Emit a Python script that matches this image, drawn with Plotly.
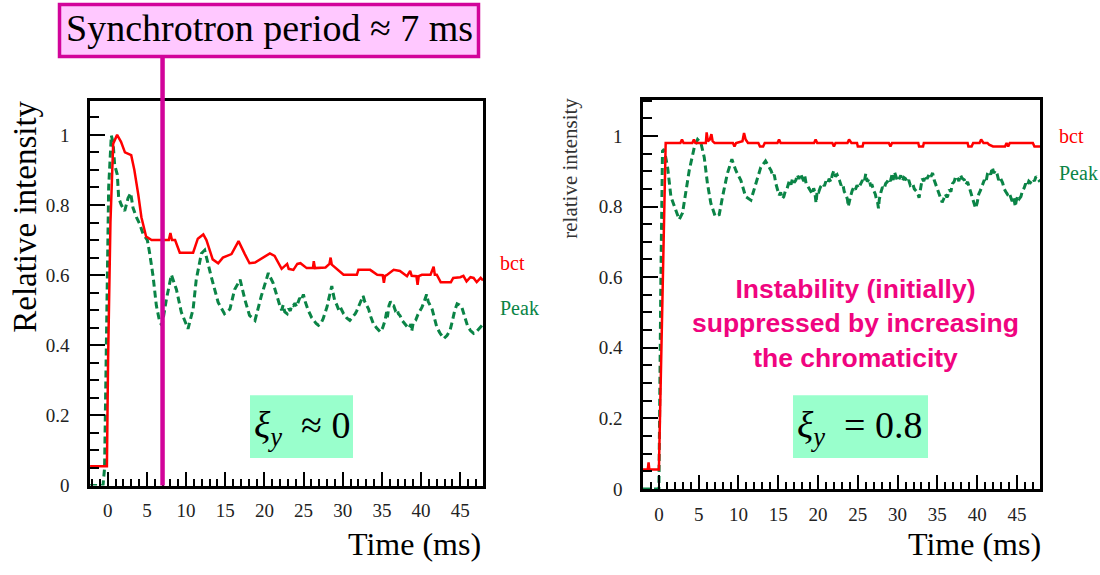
import plotly.graph_objects as go

# ---- measured beam signals, xi_y ~ 0 (left) ----
bct_left_t = [-2.25, -0.1, 0.05, 0.35, 0.7, 1.2, 1.7, 2.2, 3.0, 3.4, 3.9, 4.3, 4.9, 5.6, 7.8, 8.0, 8.2,
              8.6, 9.2, 10.9, 11.5, 12.2, 12.6, 13.4, 14.1, 14.7, 15.8, 16.7, 17.5, 18.1, 18.8, 19.6, 20.7,
              21.3, 22.2, 22.9, 23.1, 23.7, 24.2, 24.6, 25.2, 25.4, 26.2, 26.3, 26.45, 27.1, 27.8, 28.3,
              28.45, 28.6, 29.2, 30.1, 31.8, 32.0, 33.5, 34.4, 35.1, 35.25, 35.4, 35.6, 36.5, 37.3, 38.2,
              38.6, 38.8, 39.4, 39.55, 39.7, 40.1, 41.2, 41.6, 41.75, 42.0, 42.5, 43.8, 44.1, 45.0, 45.4,
              45.8, 46.3, 46.7, 47.1, 47.6, 47.9]
bct_left_v = [0.055, 0.055, 0.36, 0.75, 0.975, 1.0, 0.98, 0.95, 0.942, 0.9, 0.83, 0.765, 0.71, 0.70, 0.70,
              0.72, 0.70, 0.70, 0.664, 0.664, 0.704, 0.716, 0.70, 0.645, 0.634, 0.65, 0.66, 0.697, 0.66,
              0.634, 0.636, 0.648, 0.662, 0.655, 0.618, 0.632, 0.618, 0.615, 0.632, 0.634, 0.622, 0.62,
              0.62, 0.64, 0.62, 0.62, 0.622, 0.632, 0.65, 0.63, 0.618, 0.601, 0.601, 0.615, 0.615, 0.601,
              0.60, 0.578, 0.598, 0.60, 0.615, 0.612, 0.597, 0.612, 0.598, 0.597, 0.572, 0.597, 0.601,
              0.601, 0.624, 0.601, 0.601, 0.58, 0.58, 0.592, 0.594, 0.598, 0.582, 0.594, 0.592, 0.58,
              0.592, 0.585]

peak_left_t = [-2.25, -0.6, -0.4, -0.17, -0.05, 0.12, 0.46, 0.68, 0.89, 1.23, 1.4, 1.74, 2.17, 2.6, 2.93,
               3.23, 3.66, 4.08, 4.51, 5.06, 5.36, 5.79, 6.21, 6.64, 6.94, 7.49, 8.13, 8.77, 9.4, 10.25,
               10.9, 11.3, 11.96, 12.38, 13.2, 14.1, 14.9, 15.6, 16.2, 16.9, 17.5, 18.1, 18.8, 19.6, 20.5,
               21.1, 21.97, 22.2, 22.4, 22.6, 22.9, 23.1, 23.3, 23.5, 23.7, 23.9, 24.1, 24.3, 24.5, 24.7,
               24.98, 25.2, 25.4, 25.6, 25.8, 26.0, 26.3, 26.6, 26.9, 27.2, 27.5, 27.8, 28.0, 28.2, 28.4,
               28.6, 28.8, 29.0, 29.2, 29.5, 29.7, 30.1, 30.5, 30.9, 31.3, 31.6, 31.8, 32.2, 32.4, 32.6,
               32.8, 33.0, 33.3, 33.6, 33.9, 34.3, 34.8, 35.1, 35.4, 35.6, 35.7, 35.9, 36.1, 36.3, 36.5,
               36.7, 36.9, 37.1, 37.3, 37.6, 37.9, 38.1, 38.4, 38.7, 38.8, 39.0, 39.3, 39.6, 39.8, 40.1,
               40.4, 40.7, 40.9, 41.1, 41.4, 41.7, 42.0, 42.4, 42.9, 43.3, 43.7, 44.0, 44.3, 44.6, 44.9,
               45.2, 45.5, 45.9, 46.3, 46.7, 47.1, 47.6, 47.9]
peak_left_v = [0.0, 0.0, 0.05, 0.38, 0.66, 0.85, 0.998, 0.98, 0.914, 0.886, 0.82, 0.80, 0.783, 0.82, 0.834,
               0.792, 0.765, 0.746, 0.718, 0.70, 0.662, 0.597, 0.513, 0.466, 0.457, 0.531, 0.601, 0.559,
               0.494, 0.447, 0.503, 0.587, 0.662, 0.671, 0.597, 0.522, 0.49, 0.503, 0.559, 0.587, 0.531,
               0.485, 0.471, 0.54, 0.606, 0.578, 0.513, 0.50, 0.515, 0.495, 0.49, 0.505, 0.498, 0.515,
               0.513, 0.52, 0.51, 0.522, 0.535, 0.528, 0.545, 0.525, 0.51, 0.499, 0.49, 0.48, 0.471, 0.462,
               0.457, 0.462, 0.476, 0.495, 0.51, 0.531, 0.55, 0.569, 0.545, 0.525, 0.517, 0.50, 0.508, 0.49,
               0.478, 0.471, 0.482, 0.49, 0.499, 0.52, 0.53, 0.541, 0.525, 0.515, 0.503, 0.48, 0.462, 0.45,
               0.438, 0.45, 0.471, 0.495, 0.48, 0.513, 0.525, 0.515, 0.513, 0.50, 0.505, 0.49, 0.485, 0.47,
               0.462, 0.455, 0.448, 0.46, 0.44, 0.465, 0.471, 0.488, 0.495, 0.508, 0.525, 0.545, 0.525,
               0.515, 0.503, 0.478, 0.452, 0.435, 0.419, 0.428, 0.443, 0.47, 0.50, 0.518, 0.515, 0.508,
               0.485, 0.457, 0.442, 0.434, 0.44, 0.452, 0.46]

# ---- measured beam signals, xi_y = 0.8 (right) ----
bct_right_t = [-2.0, -1.4, -1.3, -1.2, 0.0, 0.55, 0.85, 2.7, 2.9, 3.1, 4.2, 4.4, 4.6, 5.9, 6.0, 6.15, 6.4,
               6.6, 6.75, 7.0, 9.3, 9.5, 9.7, 10.5, 10.7, 10.9, 11.2, 12.5, 12.7, 13.1, 13.3, 14.9, 15.1,
               15.3, 19.5, 19.7, 19.9, 21.8, 22.0, 22.2, 23.7, 23.9, 24.2, 24.9, 25.0, 25.6, 25.7, 28.9,
               29.1, 29.3, 32.6, 32.7, 33.2, 33.3, 38.8, 38.9, 39.3, 39.5, 40.3, 40.5, 40.8, 41.3, 41.5,
               42.0, 43.5, 43.7, 43.9, 44.1, 47.0, 47.2, 47.9]
bct_right_v = [0.055, 0.055, 0.075, 0.055, 0.055, 0.72, 0.98, 0.98, 0.99, 0.98, 0.98, 0.99, 0.98, 0.98,
               1.01, 0.985, 0.99, 1.005, 0.985, 0.98, 0.98, 0.97, 0.98, 0.985, 1.008, 0.99, 0.98, 0.98,
               0.97, 0.97, 0.98, 0.98, 0.99, 0.98, 0.98, 0.99, 0.98, 0.98, 0.97, 0.98, 0.98, 0.99, 0.98,
               0.98, 0.97, 0.97, 0.98, 0.98, 0.97, 0.98, 0.98, 0.97, 0.97, 0.98, 0.98, 0.97, 0.97, 0.98,
               0.98, 0.99, 0.98, 0.98, 0.975, 0.97, 0.97, 0.98, 0.97, 0.98, 0.98, 0.97, 0.97]

peak_right_t = [-2.0, 0.0, 0.25, 0.45, 0.67, 1.09, 1.51, 2.05, 2.55, 2.97, 3.39, 3.81, 4.44, 4.86, 5.28,
                5.7, 6.1, 6.53, 7.08, 7.58, 8.0, 8.6, 9.17, 9.67, 10.3, 10.9, 11.56, 12.2, 12.8, 13.4,
                14.1, 14.35, 14.5, 14.7, 14.9, 15.1, 15.3, 15.5, 15.7, 15.9, 16.1, 16.4, 16.6, 16.8, 17.0,
                17.2, 17.4, 17.6, 17.8, 18.0, 18.2, 18.35, 18.5, 18.7, 18.9, 19.1, 19.3, 19.45, 19.6, 19.75,
                19.9, 20.1, 20.3, 20.6, 20.8, 21.0, 21.2, 21.4, 21.6, 21.8, 22.0, 22.2, 22.4, 22.7, 22.9,
                23.1, 23.3, 23.5, 23.7, 23.8, 23.9, 24.1, 24.3, 24.5, 24.7, 24.9, 25.1, 25.4, 25.6, 25.8,
                26.0, 26.2, 26.4, 26.6, 26.8, 27.0, 27.2, 27.35, 27.5, 27.6, 27.7, 27.9, 28.1, 28.3, 28.5,
                28.7, 28.9, 29.1, 29.3, 29.45, 29.6, 29.8, 30.0, 30.2, 30.4, 30.6, 30.8, 31.0, 31.2, 31.4,
                31.6, 31.9, 32.1, 32.3, 32.5, 32.7, 32.9, 33.1, 33.3, 33.5, 33.7, 34.0, 34.2, 34.4, 34.6,
                34.8, 35.0, 35.2, 35.4, 35.6, 35.8, 36.0, 36.2, 36.3, 36.5, 36.7, 36.9, 37.1, 37.3, 37.5,
                37.7, 37.9, 38.1, 38.4, 38.6, 38.8, 39.0, 39.2, 39.4, 39.6, 39.8, 40.0, 40.2, 40.4, 40.7,
                40.9, 41.1, 41.3, 41.5, 41.7, 41.9, 42.1, 42.3, 42.5, 42.7, 42.9, 43.2, 43.4, 43.6, 43.8,
                44.0, 44.2, 44.4, 44.6, 44.8, 44.9, 45.1, 45.3, 45.5, 45.7, 45.9, 46.1, 46.3, 46.5, 46.7,
                47.0, 47.2, 47.4, 47.6, 47.9]
peak_right_v = [0.0, 0.0, 0.6, 0.957, 0.962, 0.911, 0.828, 0.791, 0.763, 0.782, 0.837, 0.902, 0.967, 0.99,
                0.98, 0.939, 0.865, 0.809, 0.772, 0.777, 0.828, 0.893, 0.934, 0.902, 0.874, 0.828, 0.818,
                0.865, 0.911, 0.929,
                0.902, 0.885, 0.89, 0.865, 0.85, 0.832, 0.84, 0.822, 0.828, 0.845, 0.85, 0.874, 0.862,
                0.88, 0.868, 0.874, 0.89, 0.878, 0.893, 0.882, 0.872, 0.885, 0.865, 0.858, 0.85, 0.846,
                0.835, 0.852, 0.84, 0.81, 0.846, 0.842, 0.855, 0.865, 0.858, 0.872, 0.866, 0.879, 0.87,
                0.89, 0.902, 0.885, 0.89, 0.874, 0.86, 0.865, 0.842, 0.835, 0.82, 0.80, 0.812, 0.83, 0.845,
                0.855, 0.848, 0.86, 0.852, 0.865, 0.875, 0.868, 0.893, 0.87, 0.878, 0.86, 0.86, 0.845, 0.835,
                0.82, 0.81, 0.795, 0.82, 0.84, 0.855, 0.85, 0.865, 0.87, 0.879, 0.872, 0.89, 0.875, 0.898,
                0.885, 0.872, 0.879, 0.888, 0.872, 0.882, 0.879, 0.868, 0.875, 0.86, 0.865, 0.85, 0.845,
                0.84, 0.825, 0.86, 0.879, 0.872, 0.888, 0.878, 0.893, 0.885, 0.895, 0.875, 0.862, 0.85,
                0.837, 0.825, 0.812, 0.822, 0.835, 0.826, 0.83, 0.848, 0.842, 0.865, 0.87, 0.885, 0.884,
                0.872, 0.89, 0.88, 0.875, 0.862, 0.87, 0.855, 0.84, 0.83, 0.814, 0.795, 0.81, 0.835, 0.845,
                0.86, 0.875, 0.868, 0.893, 0.90, 0.89, 0.911, 0.895, 0.902, 0.893, 0.875, 0.882, 0.867,
                0.85, 0.842, 0.835, 0.84, 0.828, 0.815, 0.825, 0.80, 0.815, 0.83, 0.822, 0.828, 0.845,
                0.852, 0.865, 0.858, 0.872, 0.868, 0.879, 0.872, 0.885, 0.879, 0.87]

RED = "#FF0000"
GREEN = "#0A8446"
MAGENTA = "#D2049A"
SERIF = "Liberation Serif"
W, H = 1100, 575


def px(x):
    return x / W


def py(y):
    return 1 - y / H


fig = go.Figure()
for xa, ya, bt, bv, pt, pv in [("x", "y", bct_left_t, bct_left_v, peak_left_t, peak_left_v),
                               ("x2", "y2", bct_right_t, bct_right_v, peak_right_t, peak_right_v)]:
    fig.add_trace(go.Scatter(x=pt, y=pv, xaxis=xa, yaxis=ya, mode="lines", name="Peak",
                             line=dict(color=GREEN, width=3, dash="7px,4px")))
    fig.add_trace(go.Scatter(x=bt, y=bv, xaxis=xa, yaxis=ya, mode="lines", name="bct",
                             line=dict(color=RED, width=2.5)))


def xaxis_style(domain, rng):
    return dict(domain=domain, range=rng, showline=True, mirror=True, linecolor="black", linewidth=2.5,
                ticks="inside", dtick=5, tick0=0, ticklen=14, tickwidth=2, tickcolor="black",
                minor=dict(dtick=1, tick0=0, ticklen=7, tickwidth=2, ticks="inside", tickcolor="black"),
                tickfont=dict(family=SERIF, size=19, color="#222"), ticklabelstandoff=6,
                showgrid=False, zeroline=False)


def yaxis_style(domain, rng, anchor):
    return dict(domain=domain, range=rng, anchor=anchor, showline=True, mirror=True, linecolor="black",
                linewidth=2.5, ticks="inside", dtick=0.2, tick0=0, ticklen=15, tickwidth=2,
                tickcolor="black",
                minor=dict(dtick=0.05, tick0=0, ticklen=9, tickwidth=2, ticks="inside", tickcolor="black"),
                tickfont=dict(family=SERIF, size=19, color="#222"), ticklabelstandoff=14,
                showgrid=False, zeroline=False)


fig.update_layout(
    width=W, height=H, margin=dict(l=0, r=0, t=0, b=0), showlegend=False,
    paper_bgcolor="white", plot_bgcolor="white",
    xaxis=dict(xaxis_style([px(90), px(483)], [-2.26, 47.9]), anchor="y"),
    yaxis=yaxis_style([py(495), py(103)], [0, 1.0965], "x"),
    xaxis2=dict(xaxis_style([px(643), px(1040)], [-2.0, 47.9]), anchor="y2"),
    yaxis2=yaxis_style([py(498.5), py(101.5)], [0, 1.103], "x2"),
)

shapes = [
    # synchrotron period marker
    dict(type="line", xref="x", yref="paper", x0=7, x1=7, y0=py(495), y1=py(58),
         line=dict(color=MAGENTA, width=4.5)),
    dict(type="rect", xref="paper", yref="paper", x0=px(59.5), x1=px(478.5), y0=py(57.5), y1=py(4.5),
         fillcolor="#FFC8FF", line=dict(color=MAGENTA, width=3.5)),
    # chromaticity boxes
    dict(type="rect", xref="paper", yref="paper", x0=px(250), x1=px(353), y0=py(467), y1=py(403),
         fillcolor="#99FFCC", line=dict(width=0), layer="below"),
    dict(type="rect", xref="paper", yref="paper", x0=px(793), x1=px(928), y0=py(467), y1=py(403),
         fillcolor="#99FFCC", line=dict(width=0), layer="below"),
]
fig.update_layout(shapes=shapes)


def note(text, x, y, size, color="black", xanchor="center", family=SERIF, angle=0, **kw):
    fig.add_annotation(text=text, x=px(x), y=py(y), xref="paper", yref="paper", showarrow=False,
                       xanchor=xanchor, yanchor="middle", textangle=angle,
                       font=dict(family=family, size=size, color=color, **kw))


NB = "\u00a0"
note("Synchrotron period ≈ 7 ms", 269, 29, 38)
note("Relative intensity", 25, 221, 33, angle=-90)
note("relative intensity", 570, 172, 21, color="#333", angle=-90)
note("Time (ms)", 483, 555, 32, xanchor="right")
note("Time (ms)", 1043, 555, 32, xanchor="right")
note("bct", 498, 268, 20, color=RED, xanchor="left")
note("Peak", 498, 314, 20, color=GREEN, xanchor="left")
note("bct", 1057, 139, 20, color=RED, xanchor="left")
note("Peak", 1057, 176, 20, color=GREEN, xanchor="left")
note(f"<i>ξ</i><sub><i>y</i></sub>{NB}{NB}≈{NB}0", 302, 436, 38)
note(f"<i>ξ</i><sub><i>y</i></sub>{NB}{NB}={NB}0.8", 860, 436, 38)
note("Instability (initially)<br>suppressed by increasing<br>the chromaticity", 855, 330, 26.5,
     color="#F0047F", family="Liberation Sans", weight="bold")

fig.write_html("out.html")
